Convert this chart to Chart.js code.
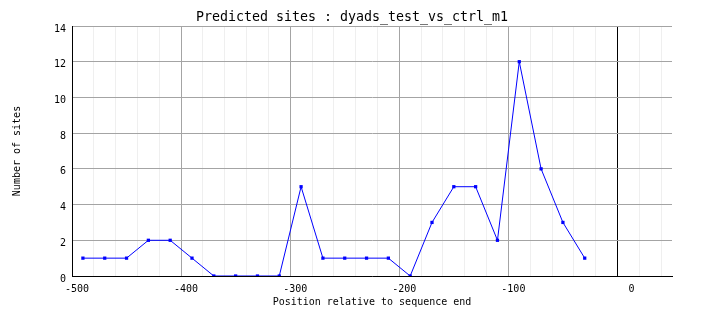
<!DOCTYPE html>
<html>
<head>
<meta charset="utf-8">
<script src="https://cdn.jsdelivr.net/npm/chart.js@4"></script>
<style>
html,body{margin:0;padding:0;background:#fff;}
#wrap{width:704px;height:328px;}
</style>
</head>
<body>
<div id="wrap"><canvas id="c" width="704" height="328"></canvas></div>
<script>
const chartTitle = 'Predicted sites : dyads_test_vs_ctrl_m1';
const xAxisTitle = 'Position relative to sequence end';
const yAxisTitle = 'Number of sites';
const positions = [-490,-470,-450,-430,-410,-390,-370,-350,-330,-310,-290,-270,-250,-230,-210,-190,-170,-150,-130,-110,-90,-70,-50,-30];
const siteCounts = [1,1,1,2,2,1,0,0,0,0,5,1,1,1,1,0,3,5,5,2,12,6,3,1];
const xLabelTicks = [-500,-400,-300,-200,-100,0];
const xMinorStep = 20;
const yTicks = [0,2,4,6,8,10,12,14];

const MONO = "'DejaVu Sans Mono', 'Liberation Mono', monospace";

const xGridTicks = [];
for (let v = -500; v <= 40; v += xMinorStep) xGridTicks.push(v);

new Chart(document.getElementById('c'), {
  type: 'line',
  data: {
    datasets: [{
      data: positions.map((p, i) => ({x: p, y: siteCounts[i]})),
      yAxisID: 'y',
      borderColor: '#0000ff',
      backgroundColor: '#0000ff',
      borderWidth: 1,
      tension: 0,
      pointStyle: 'rect',
      pointRadius: 2.3,
      pointBorderWidth: 0,
      pointBackgroundColor: '#0000ff',
      fill: false
    }]
  },
  options: {
    responsive: false,
    devicePixelRatio: 1,
    animation: false,
    layout: {padding: 0},
    plugins: {
      legend: {display: false},
      tooltip: {enabled: false},
      title: {
        display: true,
        text: chartTitle,
        color: '#000',
        font: {family: MONO, size: 13.3, weight: 'normal', lineHeight: 1.0},
        padding: {top: 10.5, bottom: 2.2}
      }
    },
    scales: {
      x: {
        type: 'linear',
        min: -500,
        max: 50,
        afterFit: s => { s.height = 52; },
        afterBuildTicks: s => { s.ticks = xGridTicks.map(v => ({value: v})); },
        ticks: {
          autoSkip: false,
          maxRotation: 0,
          minRotation: 0,
          padding: 7,
          labelOffset: 5,
          color: '#000',
          font: {family: MONO, size: 10},
          callback: v => {
            const r = Math.round(v);
            if (!xLabelTicks.includes(r)) return '';
            return String(r).padStart(4, ' ');
          }
        },
        grid: {
          drawTicks: false,
          lineWidth: 1,
          color: c => {
            const v = Math.round(c.tick.value);
            if (v === 0) return '#000000';
            if (v % 100 === 0) return '#a4a4a4';
            return '#efefef';
          }
        },
        border: {display: true, color: '#000', width: 1},
        title: {
          display: true,
          text: xAxisTitle,
          color: '#000',
          font: {family: MONO, size: 10, lineHeight: 1.2},
          padding: {top: 0, bottom: 19.5}
        }
      },
      y: {
        type: 'linear',
        position: 'left',
        min: 0,
        max: 14,
        afterFit: s => { s.width = 72; },
        afterBuildTicks: s => { s.ticks = yTicks.map(v => ({value: v})); },
        ticks: {
          padding: 6,
          labelOffset: 3,
          color: '#000',
          font: {family: MONO, size: 10}
        },
        grid: {
          drawTicks: false,
          lineWidth: 1,
          color: '#a4a4a4'
        },
        border: {display: true, color: '#000', width: 1},
        title: {
          display: true,
          text: yAxisTitle,
          color: '#000',
          font: {family: MONO, size: 10, lineHeight: 1.2},
          padding: {top: 11.7, bottom: 0}
        }
      },
      yRight: {
        type: 'linear',
        position: 'right',
        min: 0,
        max: 14,
        display: true,
        afterFit: s => { s.width = 32; },
        grid: {display: false, drawTicks: false},
        border: {display: false},
        ticks: {display: false}
      }
    }
  }
});
</script>
</body>
</html>
